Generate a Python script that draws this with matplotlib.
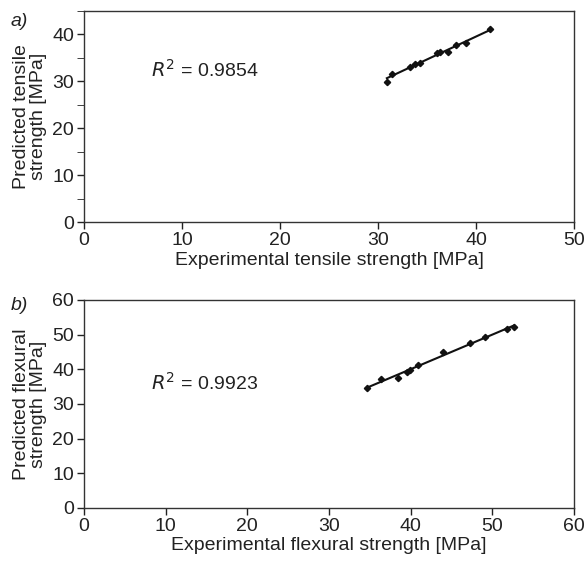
import matplotlib.pyplot as plt
import numpy as np

plt.rcParams['font.family'] = ['Liberation Sans', 'DejaVu Sans']
plt.rcParams['font.size'] = 14

# tensile strength data [MPa]
tens_exp = [30.9, 31.4, 33.3, 33.8, 34.3, 36.0, 36.3, 37.1, 38.0, 39.0, 41.4]
tens_pred = [29.9, 31.6, 33.0, 33.6, 33.9, 35.9, 36.2, 36.1, 37.7, 38.0, 41.0]

# flexural strength data [MPa]
flex_exp = [34.6, 36.4, 38.5, 39.5, 39.9, 40.9, 44.0, 47.3, 49.1, 51.8, 52.6]
flex_pred = [34.5, 37.2, 37.4, 39.3, 39.7, 41.2, 45.1, 47.5, 49.2, 51.6, 52.3]

fig = plt.figure(figsize=(5.87, 5.70), dpi=100)
ax1 = fig.add_axes([0.143, 0.6105, 0.835, 0.371])
ax2 = fig.add_axes([0.143, 0.1088, 0.835, 0.3649])

def draw(ax, x, y, r2, xmax, ymax, xlabel, ylabel, r2pos):
    x = np.array(x)
    y = np.array(y)
    k, b = np.polyfit(x, y, 1)
    xs = np.array([x.min(), x.max()])
    ax.plot(xs, k * xs + b, color='#111111', lw=1.5)
    ax.plot(x, y, 'D', color='#111111', ms=3.2)
    ax.set_xlim(0, xmax)
    ax.set_ylim(0, ymax)
    ax.set_xticks(np.arange(0, xmax + 1, 10))
    ax.set_xlabel(xlabel, labelpad=2, color='#222222')
    ax.set_ylabel(ylabel, linespacing=1.0, labelpad=4, color='#222222')
    ax.tick_params(direction='out', length=5, width=1, colors='#222222', pad=2)
    for s in ax.spines.values():
        s.set_color('#333333')
        s.set_linewidth(1)
    ax.text(r2pos[0], r2pos[1], r'$\it{R}^2$ = ' + r2, va='center', color='#222222')

draw(ax1, tens_exp, tens_pred, '0.9854', 50, 45,
     'Experimental tensile strength [MPa]', 'Predicted tensile\nstrength [MPa]', (6.8, 32.3))
ax1.set_yticks(np.arange(0, 41, 10))
ax1.set_yticks(np.arange(5, 46, 10), minor=True)
ax1.tick_params(which='minor', direction='out', length=5, colors='#222222')

draw(ax2, flex_exp, flex_pred, '0.9923', 60, 60,
     'Experimental flexural strength [MPa]', 'Predicted flexural\nstrength [MPa]', (8.2, 36.0))
ax2.set_yticks(np.arange(0, 61, 10))

fig.text(0.018, 0.963, 'a)', style='italic', color='#222222', va='center')
fig.text(0.018, 0.464, 'b)', style='italic', color='#222222', va='center')

fig.savefig('out.png', dpi=100)
